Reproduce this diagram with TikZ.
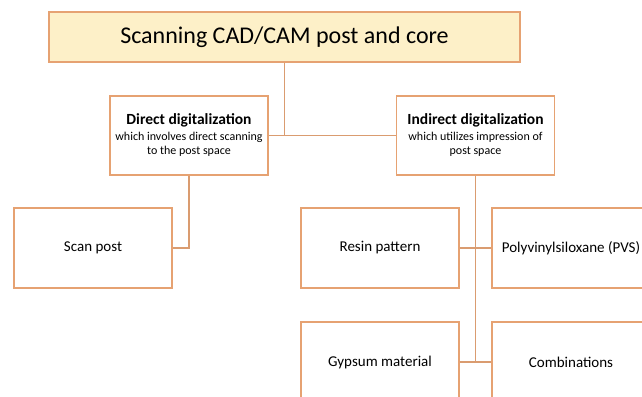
\documentclass[tikz,border=0pt]{standalone}
\usepackage{fontspec}
\setmainfont{Carlito}
\usetikzlibrary{positioning}

\definecolor{boxline}{RGB}{230,162,114}
\definecolor{linkline}{RGB}{218,156,112}
\definecolor{titlefill}{RGB}{253,240,200}

\tikzset{
  box/.style = {draw=boxline, line width=1.1pt, minimum width=158pt, minimum height=80pt, inner sep=0pt, align=center, font=\fontsize{15}{18}\selectfont},
  headbox/.style = {box, fill=titlefill, minimum width=471pt, minimum height=50pt, font=\fontsize{24}{28}\selectfont},
  subbox/.style = {box, minimum height=79pt, font=\fontsize{12}{14}\selectfont},
  link/.style = {draw=linkline, line width=1.1pt},
  elbow/.style = {to path={|- (\tikztotarget)}}
}
\newcommand{\branchhead}[1]{{\bfseries\fontsize{15.5}{16}\selectfont #1}}

\begin{document}
\begin{tikzpicture}[ x=1pt , y=-1pt , node distance =100pt , on grid ]
\useasboundingbox (0,0) rectangle (642,396);
\clip (0,0) rectangle (642,396);
\node [ headbox ] (title) at (284.5,37) {Scanning CAD/CAM post and core};
\node [ subbox ] (direct) [ below left = 98.5pt and 95.5pt of title ] {\branchhead{Direct digitalization}\\[2pt] which involves direct scanning\\ to the post space};
\node [ subbox ] (indirect) [ right = 286.5pt of direct ] {\branchhead{Indirect digitalization}\\[2pt] which utilizes impression of\\ post space};
\node [ box ] (scan) [ below left = 112.5pt and 96pt of direct ] {Scan post};
\node [ box ] (resin) [ below left = 112.5pt and 95.5pt of indirect ] {Resin pattern};
\node [ box ] (pvs) [ right = 191pt of resin ] {Polyvinylsiloxane (PVS)};
\node [ box ] (gypsum) [ below = 114pt of resin ] {Gypsum material};
\node [ box ] (comb) [ right = 191pt of gypsum ] {Combinations};
\path [ link ]
(title) edge [ elbow ] (direct)
 edge [ elbow ] (indirect)
(direct) edge [ elbow ] (scan)
(indirect) edge (indirect |- gypsum)
(resin) edge (pvs)
(gypsum) edge (comb);
\end{tikzpicture}
\end{document}
